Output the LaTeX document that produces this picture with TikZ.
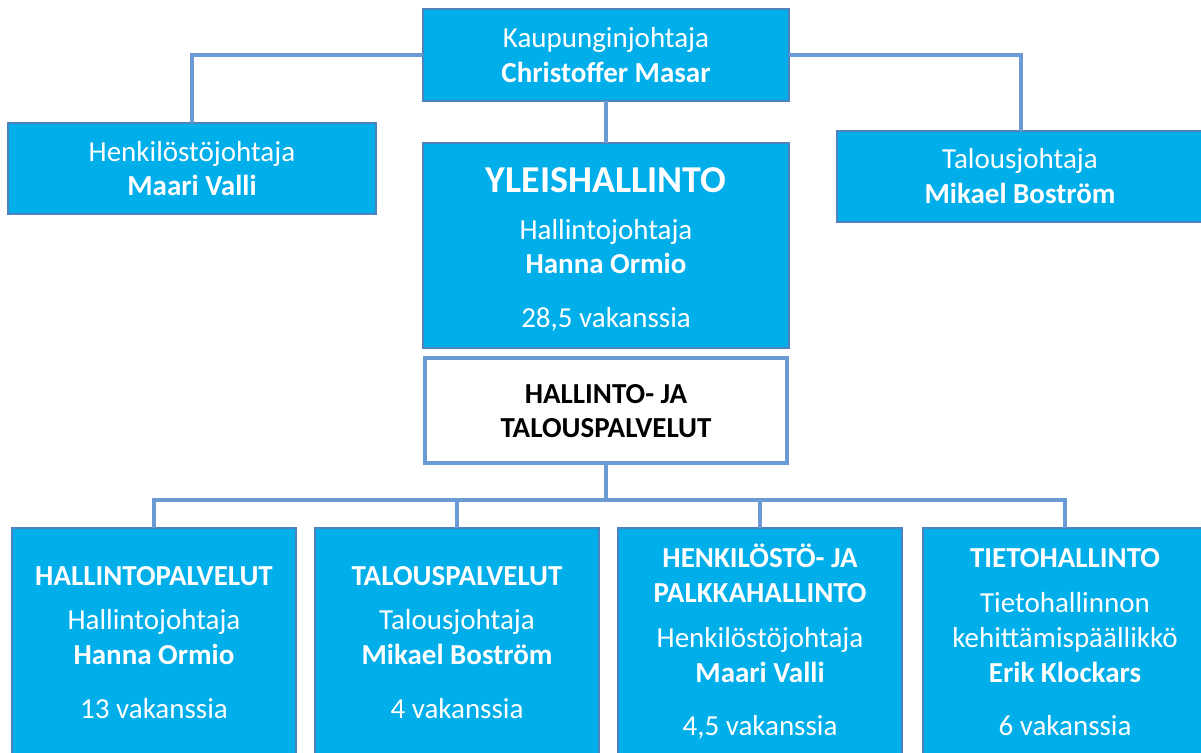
\documentclass[tikz,border=0pt]{standalone}
\usepackage{fontspec}
\setmainfont{Carlito}
\definecolor{boxfill}{RGB}{0,174,234}
\definecolor{boxline}{RGB}{79,129,189}
\definecolor{conn}{RGB}{106,155,213}
\tikzset{
  bluebox/.style={draw=boxline, line width=1.2pt, fill=boxfill, inner sep=0pt, outer sep=0pt},
  whitebox/.style={draw=conn, line width=4pt, fill=white, inner sep=0pt, outer sep=0pt},
  link/.style={draw=conn, line width=4pt},
  wt/.style={text=white, anchor=base, inner sep=0pt, font=\fontsize{29}{35}\selectfont},
  wb/.style={text=white, anchor=base, inner sep=0pt, font=\fontsize{29}{35}\selectfont\bfseries},
  big/.style={text=white, anchor=base, inner sep=0pt, font=\fontsize{38}{45}\selectfont\bfseries},
  bt/.style={text=black, anchor=base, inner sep=0pt, font=\fontsize{29}{35}\selectfont\bfseries},
}
\begin{document}
\begin{tikzpicture}[x=1pt, y=-1pt]
\useasboundingbox (0,0) rectangle (1201,752);
\clip (0,0) rectangle (1201,752);
% boxes
\node[bluebox, minimum width=366pt, minimum height=92pt] (top) at (606,55) {};
\node[bluebox, minimum width=368pt, minimum height=91pt] (henk) at (192,168.5) {};
\node[bluebox, minimum width=368pt, minimum height=91pt] (talous) at (1021,176.5) {};
\node[bluebox, minimum width=366pt, minimum height=205pt] (yleis) at (606,245.5) {};
\node[whitebox, minimum width=362pt, minimum height=105pt] (hjt) at (606,410.5) {};
\node[bluebox, minimum width=284pt, minimum height=262pt] (b1) at (154,659) {};
\node[bluebox, minimum width=284pt, minimum height=262pt] (b2) at (457,659) {};
\node[bluebox, minimum width=284pt, minimum height=262pt] (b3) at (760,659) {};
\node[bluebox, minimum width=284pt, minimum height=262pt] (b4) at (1065,659) {};
% connectors
\coordinate (bus) at (606,500);
\draw[link] (top.west) -| (henk.north);
\draw[link] (top.east) -| (talous.north);
\draw[link] (top.south) -- (yleis.north);
\draw[link] (hjt.south) -- (bus);
\draw[link] (b1.north) |- (bus) -| (b4.north);
\draw[link] (b2.north) -- (b2.north |- bus);
\draw[link] (b3.north) -- (b3.north |- bus);
% texts
\node[wt] (t01) at (606,48) {Kaupunginjohtaja};
\node[wb] (t02) at (606,82) {Christoffer Masar};
\node[wt] (t03) at (192,161) {Henkilöstöjohtaja};
\node[wb] (t04) at (192,195) {Maari Valli};
\node[wt] (t05) at (1020,168) {Talousjohtaja};
\node[wb] (t06) at (1020,203) {Mikael Boström};
\node[big] (t07) at (606,192) {YLEISHALLINTO};
\node[wt] (t08) at (606,239) {Hallintojohtaja};
\node[wb] (t09) at (606,273) {Hanna Ormio};
\node[wt] (t10) at (606,327) {28,5 vakanssia};
\node[bt] (t11) at (606,403) {HALLINTO- JA};
\node[bt] (t12) at (606,437) {TALOUSPALVELUT};
\node[wb] (t13) at (154,585) {HALLINTOPALVELUT};
\node[wt] (t14) at (154,629) {Hallintojohtaja};
\node[wb] (t15) at (154,664) {Hanna Ormio};
\node[wt] (t16) at (154,718) {13 vakanssia};
\node[wb] (t17) at (457,585) {TALOUSPALVELUT};
\node[wt] (t18) at (457,629) {Talousjohtaja};
\node[wb] (t19) at (457,664) {Mikael Boström};
\node[wt] (t20) at (457,718) {4 vakanssia};
\node[wb] (t21) at (760,567) {HENKILÖSTÖ- JA};
\node[wb] (t22) at (760,602) {PALKKAHALLINTO};
\node[wt] (t23) at (760,647) {Henkilöstöjohtaja};
\node[wb] (t24) at (760,682) {Maari Valli};
\node[wt] (t25) at (760,735) {4,5 vakanssia};
\node[wb] (t26) at (1065,567) {TIETOHALLINTO};
\node[wt] (t27) at (1065,612) {Tietohallinnon};
\node[wt] (t28) at (1065,647) {kehittämispäällikkö};
\node[wb] (t29) at (1065,682) {Erik Klockars};
\node[wt] (t30) at (1065,735) {6 vakanssia};
\end{tikzpicture}
\end{document}
